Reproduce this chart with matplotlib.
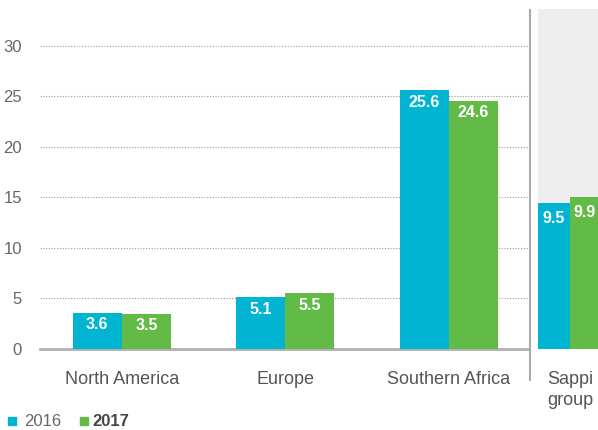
import matplotlib
matplotlib.use("Agg")
import matplotlib.pyplot as plt
from matplotlib.lines import Line2D
from matplotlib.patches import Rectangle

plt.rcParams['font.family'] = ['Liberation Sans', 'DejaVu Sans']

regions = ['North America', 'Europe', 'Southern Africa']
values_2016 = [3.6, 5.1, 25.6]
values_2017 = [3.5, 5.5, 24.6]
group_label = 'Sappi\ngroup'
group_2016 = 9.5
group_2017 = 9.9
yticks = [0, 5, 10, 15, 20, 25, 30]
legend_labels = ['2016', '2017']

c16 = '#00b4d2'
c17 = '#62bb46'
txt = '#666666'

W, H = 598, 430
fig = plt.figure(figsize=(W / 100, H / 100), dpi=100)

# main panel
ax = fig.add_axes([40 / W, 81 / H, 498 / W, 340 / H])
ax.set_xlim(-0.5, 2.544)
ax.set_ylim(0, 33.66)
bw = 0.3
x = list(range(len(regions)))
ax.bar([i - bw / 2 for i in x], values_2016, width=bw, color=c16, zorder=3)
ax.bar([i + bw / 2 for i in x], values_2017, width=bw, color=c17, zorder=3)
for i in x:
    ax.text(i - bw / 2, values_2016[i] - 1.2, f'{values_2016[i]:.1f}', color='white',
            ha='center', va='center', fontsize=11.5, fontweight='bold', zorder=4)
    ax.text(i + bw / 2, values_2017[i] - 1.2, f'{values_2017[i]:.1f}', color='white',
            ha='center', va='center', fontsize=11.5, fontweight='bold', zorder=4)

for t in yticks[1:]:
    ax.plot([-0.5, 2.49], [t, t], linestyle=(0, (1, 1.5)), color='#999999', lw=0.8, zorder=1)
ax.plot([-0.5, 2.49], [0, 0], color='#b0b0b0', lw=2, zorder=2, clip_on=False)

ax.set_yticks(yticks)
ax.set_yticklabels([str(t) for t in yticks], color=txt, fontsize=12)
ax.set_xticks(x)
ax.set_xticklabels(regions, color='#555555', fontsize=13)
ax.tick_params(length=0)
ax.tick_params(axis='y', pad=13)
ax.tick_params(axis='x', pad=16)
for s in ax.spines.values():
    s.set_visible(False)
ax.set_facecolor('none')

# Sappi group panel
ax2 = fig.add_axes([538 / W, 81 / H, 64 / W, 340 / H])
ax2.set_facecolor('#eeeeee')
ax2.set_xlim(0, 2)
ax2.set_ylim(0, 22.1)
ax2.bar([0.5], [group_2016], width=1, color=c16, zorder=3)
ax2.bar([1.5], [group_2017], width=1, color=c17, zorder=3)
ax2.text(0.5, group_2016 - 1.0, f'{group_2016:.1f}', color='white', ha='center', va='center',
         fontsize=11.5, fontweight='bold', zorder=4)
ax2.text(1.45, group_2017 - 1.0, f'{group_2017:.1f}', color='white', ha='center', va='center',
         fontsize=11.5, fontweight='bold', zorder=4)
ax2.set_yticks([])
ax2.set_xticks([1])
ax2.set_xticklabels([group_label], color='#555555', fontsize=13, linespacing=1.3)
ax2.tick_params(length=0, pad=16)
for s in ax2.spines.values():
    s.set_visible(False)

# separator
fig.add_artist(Line2D([530 / W, 530 / W], [1 - 10 / H, 1 - 380 / H], color='#aaaaaa', lw=1.5))

# legend
fig.add_artist(Rectangle((8 / W, 1 - 425 / H), 8 / W, 8 / H, color=c16))
fig.text(24 / W, 1 - 421 / H, legend_labels[0], color=txt, fontsize=12, va='center')
fig.add_artist(Rectangle((80 / W, 1 - 425 / H), 8 / W, 8 / H, color=c17))
fig.text(92 / W, 1 - 421 / H, legend_labels[1], color='#444444', fontsize=12, fontweight='bold', va='center')

fig.savefig('out.png', dpi=100)
